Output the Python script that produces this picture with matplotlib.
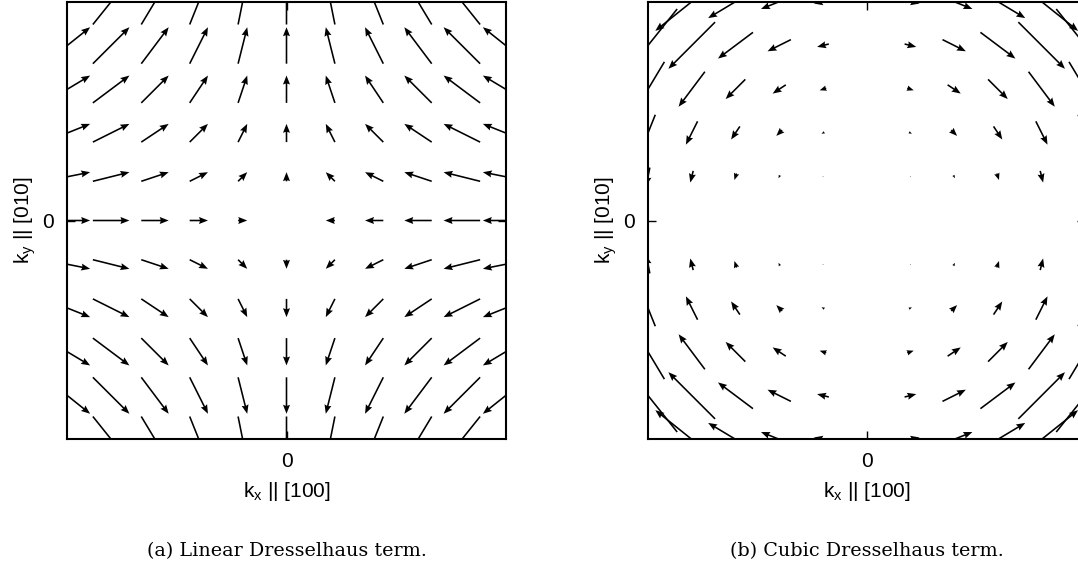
import numpy as np
import matplotlib
matplotlib.use("Agg")
import matplotlib.pyplot as plt

plt.rcParams['font.family'] = ['Liberation Sans', 'DejaVu Sans']
plt.rcParams['mathtext.default'] = 'regular'

# grid of wave-vector points (both panels)
kx_vals = [-5, -4, -3, -2, -1, 0, 1, 2, 3, 4, 5]
ky_vals = [-5, -4, -3, -2, -1, 0, 1, 2, 3, 4, 5]

# linear Dresselhaus field: x-component per column, y-component per row
lin_u_cols = [5, 4, 3, 2, 1, 0, -1, -2, -3, -4, -5]
lin_v_rows = [-5, -4, -3, -2, -1, 0, 1, 2, 3, 4, 5]

# cubic Dresselhaus field (rows: ky = -5 .. 5, columns: kx = -5 .. 5)
cub_u = [
    [-125, -100, -75, -50, -25, 0, 25, 50, 75, 100, 125],
    [-80, -64, -48, -32, -16, 0, 16, 32, 48, 64, 80],
    [-45, -36, -27, -18, -9, 0, 9, 18, 27, 36, 45],
    [-20, -16, -12, -8, -4, 0, 4, 8, 12, 16, 20],
    [-5, -4, -3, -2, -1, 0, 1, 2, 3, 4, 5],
    [0, 0, 0, 0, 0, 0, 0, 0, 0, 0, 0],
    [-5, -4, -3, -2, -1, 0, 1, 2, 3, 4, 5],
    [-20, -16, -12, -8, -4, 0, 4, 8, 12, 16, 20],
    [-45, -36, -27, -18, -9, 0, 9, 18, 27, 36, 45],
    [-80, -64, -48, -32, -16, 0, 16, 32, 48, 64, 80],
    [-125, -100, -75, -50, -25, 0, 25, 50, 75, 100, 125],
]
cub_v = [
    [125, 80, 45, 20, 5, 0, 5, 20, 45, 80, 125],
    [100, 64, 36, 16, 4, 0, 4, 16, 36, 64, 100],
    [75, 48, 27, 12, 3, 0, 3, 12, 27, 48, 75],
    [50, 32, 18, 8, 2, 0, 2, 8, 18, 32, 50],
    [25, 16, 9, 4, 1, 0, 1, 4, 9, 16, 25],
    [0, 0, 0, 0, 0, 0, 0, 0, 0, 0, 0],
    [-25, -16, -9, -4, -1, 0, -1, -4, -9, -16, -25],
    [-50, -32, -18, -8, -2, 0, -2, -8, -18, -32, -50],
    [-75, -48, -27, -12, -3, 0, -3, -12, -27, -48, -75],
    [-100, -64, -36, -16, -4, 0, -4, -16, -36, -64, -100],
    [-125, -80, -45, -20, -5, 0, -5, -20, -45, -80, -125],
]

x_label = 'k$_x$ || [100]'
y_label = 'k$_y$ || [010]'
captions = ['(a) Linear Dresselhaus term.', '(b) Cubic Dresselhaus term.']

W, H = 1078, 574
fig = plt.figure(figsize=(W / 100, H / 100), dpi=100)

def px_axes(x0, y0, x1, y1):
    return fig.add_axes([x0 / W, 1 - y1 / H, (x1 - x0) / W, (y1 - y0) / H])

ax1 = px_axes(67.3, 1.7, 505.7, 439.3)
ax2 = px_axes(648.0, 1.7, 1085.4, 439.3)

X, Y = np.meshgrid(kx_vals, ky_vals)
LU, LV = np.meshgrid(lin_u_cols, lin_v_rows)
CU = np.array(cub_u, dtype=float)
CV = np.array(cub_v, dtype=float)

def draw(ax, U, V, scale):
    U = np.asarray(U, dtype=float)
    V = np.asarray(V, dtype=float)
    keep = (U != 0) | (V != 0)
    ax.quiver(X[keep], Y[keep], U[keep], V[keep], angles='xy', scale_units='xy',
              scale=scale, pivot='middle', units='dots', width=1.6,
              headwidth=4.4, headlength=5.6, headaxislength=5.0,
              minshaft=1, minlength=0, color='black')
    ax.set_xlim(-5, 5)
    ax.set_ylim(-5, 5)
    ax.set_xticks([0])
    ax.set_yticks([0])
    ax.tick_params(direction='in', length=5.8, width=1.0, top=True, right=True,
                   labelsize=15, pad=9.5)
    for s in ax.spines.values():
        s.set_linewidth(1.5)
    ax.set_xlabel(x_label, fontsize=15, labelpad=6)
    ax.set_ylabel(y_label, fontsize=15, labelpad=3)

draw(ax1, LU, LV, 4.8)
draw(ax2, CU, CV, 60.0)

for cx, cap in zip([286.5, 867.0], captions):
    fig.text(cx / W, 1 - 551 / H, cap, ha='center', va='center',
             fontsize=13.8, family='DejaVu Serif')

fig.savefig('out.png', dpi=100)
